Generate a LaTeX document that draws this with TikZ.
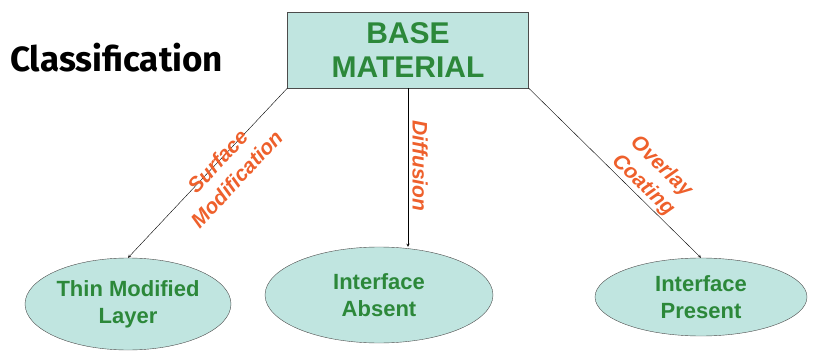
\documentclass[tikz,border=0pt]{standalone}
\usepackage{fontspec}
\setmainfont{Liberation Sans}
\newfontfamily\titlefont{Fira Sans}
\usetikzlibrary{arrows}
\usetikzlibrary{shapes.geometric}

\definecolor{boxfill}{RGB}{192,229,224}
\definecolor{textgreen}{RGB}{44,136,58}
\definecolor{labelred}{RGB}{238,96,44}

\tikzset{
  kind/.style={draw=black!70, fill=boxfill, ellipse, inner sep=0pt,
    text=textgreen, font=\fontsize{22}{27}\selectfont\bfseries, align=center},
  route/.style={labelred, font=\fontsize{21}{26}\selectfont\bfseries\itshape, align=center, inner sep=0pt}
}

\begin{document}
\begin{tikzpicture}[x=1pt,y=-1pt]
        \useasboundingbox (0,0) rectangle (813,355);

        \node[anchor=west, inner sep=0pt] (title) at (10,58) {\titlefont\fontsize{35}{40}\selectfont\bfseries Classification};

        \node[draw=black!70, fill=boxfill, minimum width=241pt, minimum height=76pt, inner sep=0pt,
          text=textgreen, font=\fontsize{30}{34}\selectfont\bfseries, align=center] (base) at (408,50) {BASE\\MATERIAL};

        \node[kind, minimum width=206pt, minimum height=92pt] (thin) at (128,304) {Thin Modified\\Layer};
        \node[kind, minimum width=228pt, minimum height=96pt] (absent) at (379,295) {Interface\\Absent};
        \node[kind, minimum width=212pt, minimum height=78pt] (present) at (701,297) {Interface\\Present};

        \draw[->, >=stealth] (base.south west) -- (thin.north);
        \draw[->, >=stealth] (base.south) -- (base.south |- absent.north);
        \draw[->, >=stealth] (base.south east) -- (present.north);

        \node[route, rotate=47] (surf) at (227,170) {Surface\\Modification};
        \node[route, rotate=-90] (diff) at (420,166) {Diffusion};
        \node[route, rotate=-44] (over) at (652,176) {Overlay\\Coating};
      \end{tikzpicture}
\end{document}
